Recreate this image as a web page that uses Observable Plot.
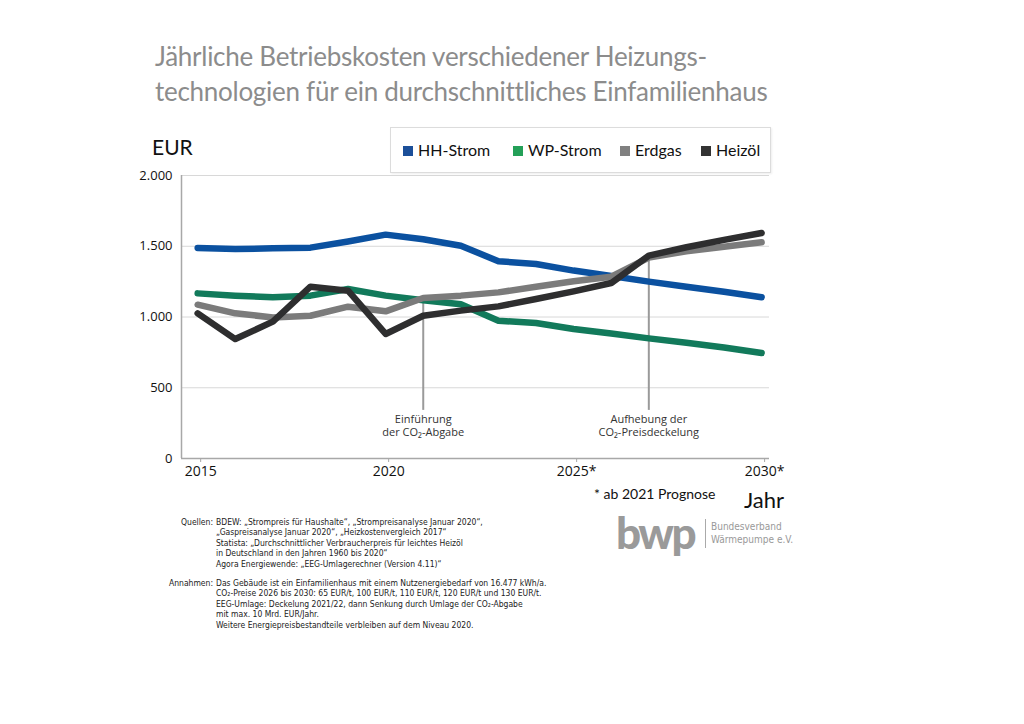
<!DOCTYPE html>
<html><head><meta charset="utf-8">
<script src="https://cdn.jsdelivr.net/npm/d3@7"></script>
<script src="https://cdn.jsdelivr.net/npm/@observablehq/plot@0.6"></script>
<style>
  html,body{margin:0;padding:0;background:#fff;}
  #page{position:relative;width:1024px;height:724px;overflow:hidden;font-family:Lato,"Open Sans",sans-serif;}
  .abs{position:absolute;white-space:nowrap;}
  #title{left:155px;top:39px;font-size:26px;letter-spacing:-0.27px;line-height:35px;color:#8c8c8c;}
  #eur{left:152px;top:134px;font-size:21px;color:#111;}
  #jahr{left:744px;top:486px;font-size:22px;color:#111;}
  #prog{left:594px;top:485px;font-size:14px;color:#111;}
  #legend{left:390px;top:127px;width:379px;height:44px;border:1px solid #dcdcdc;box-shadow:1px 1px 2px #eee;background:#fff;}
  .li{position:absolute;top:12px;font-size:16px;color:#111;}
  .sw{display:inline-block;width:10px;height:10px;margin-right:5px;vertical-align:0px;}
  #chart{left:0;top:160px;}
  .note{font-family:"DejaVu Sans Condensed","DejaVu Sans",sans-serif;font-size:8.5px;line-height:10.4px;color:#222;}
  .lab{width:120px;text-align:right;}
  #logo{left:616px;top:506px;font-family:Lato,sans-serif;font-weight:900;font-size:44px;color:#9a9a9a;letter-spacing:-2.5px;}
  #logodiv{left:705px;top:519px;width:1px;height:29px;background:#aaa;}
  #logotxt{left:711px;top:520px;font-family:"DejaVu Sans Condensed",sans-serif;font-size:10px;line-height:13px;color:#999;}
</style></head>
<body><div id="page">
  <div id="title" class="abs">Jährliche Betriebskosten verschiedener Heizungs-<br>technologien für ein durchschnittliches Einfamilienhaus</div>
  <div id="eur" class="abs">EUR</div>
  <div id="legend" class="abs"></div>
  <div id="chart" class="abs"></div>
  <div id="prog" class="abs">* ab 2021 Prognose</div>
  <div id="jahr" class="abs">Jahr</div>
  <div id="logo" class="abs">bwp</div>
  <div id="logodiv" class="abs"></div>
  <div id="logotxt" class="abs">Bundesverband<br>Wärmepumpe e.V.</div>
  <div class="abs note lab" style="left:93px;top:517px;">Quellen:</div>
  <div class="abs note" style="left:216px;top:517px;">BDEW: „Strompreis für Haushalte“, „Strompreisanalyse Januar 2020“,<br>„Gaspreisanalyse Januar 2020“, „Heizkostenvergleich 2017“<br>Statista: „Durchschnittlicher Verbraucherpreis für leichtes Heizöl<br>in Deutschland in den Jahren 1960 bis 2020“<br>Agora Energiewende: „EEG-Umlagerechner (Version 4.11)“</div>
  <div class="abs note lab" style="left:93px;top:578px;">Annahmen:</div>
  <div class="abs note" style="left:216px;top:578px;">Das Gebäude ist ein Einfamilienhaus mit einem Nutzenergiebedarf von 16.477 kWh/a.<br>CO₂-Preise 2026 bis 2030: 65 EUR/t, 100 EUR/t, 110 EUR/t, 120 EUR/t und 130 EUR/t.<br>EEG-Umlage: Deckelung 2021/22, dann Senkung durch Umlage der CO₂-Abgabe<br>mit max. 10 Mrd. EUR/Jahr.<br>Weitere Energiepreisbestandteile verbleiben auf dem Niveau 2020.</div>
</div>
<script>
// ---- data ----
const years = [2015,2016,2017,2018,2019,2020,2021,2022,2023,2024,2025,2026,2027,2028,2029,2030];
const hhStrom = [1488,1481,1485,1490,1533,1582,1549,1504,1394,1375,1328,1290,1250,1214,1179,1139];
const wpStrom = [1167,1151,1139,1151,1198,1151,1118,1090,974,957,915,884,849,818,785,745];
const erdgas  = [1087,1026,997,1009,1073,1040,1134,1151,1174,1214,1252,1285,1420,1465,1497,1528];
const heizoel = [1026,844,967,1214,1186,880,1009,1045,1075,1127,1181,1240,1434,1493,1545,1594];
const seriesNames = ["HH-Strom","WP-Strom","Erdgas","Heizöl"];
const seriesColors = ["#0b51a0","#127a5b","#7b7b7b","#2e2e2f"];
const legendColors = ["#1b4f99","#24a058","#808080","#333333"];
const yTicks = [0,500,1000,1500,2000];
const xTicks = [2015,2020,2025,2030];
const xTickLabels = ["2015","2020","2025*","2030*"];
const annYears = [2021,2027];
const annTop = [1134,1434];
const annBottom = [340,340];
const annLabels = ["Einführung\nder CO₂-Abgabe","Aufhebung der\nCO₂-Preisdeckelung"];
const xDomain = [2014.57,2030.21];
const yDomain = [0,2000];

const allSeries = [hhStrom,wpStrom,erdgas,heizoel];
const rows = [];
allSeries.forEach((vals,i)=>vals.forEach((v,j)=>rows.push({series:seriesNames[i],year:years[j],value:v})));
const ann = annYears.map((y,i)=>({year:y,top:annTop[i],bottom:annBottom[i],label:annLabels[i]}));

// legend
const lg = document.getElementById("legend");
const lx = [12,122,229,310];
seriesNames.forEach((n,i)=>{
  const d=document.createElement("div");d.className="li";d.style.left=lx[i]+"px";
  d.innerHTML=`<span class="sw" style="background:${legendColors[i]}"></span>${n}`;
  lg.appendChild(d);
});

const fmt = d => d3.format(",")(d).replace(/,/g,".");
const chart = Plot.plot({
  width:800,height:330,
  marginLeft:181,marginTop:15,marginRight:31,marginBottom:32,
  style:{fontFamily:"'Open Sans',sans-serif",fontSize:"13px",color:"#111",background:"transparent"},
  x:{domain:xDomain},
  y:{domain:yDomain},
  color:{domain:seriesNames,range:seriesColors},
  marks:[
    Plot.gridY(yTicks.filter(d=>d>0),{stroke:"#d8d8d8",strokeOpacity:1,strokeWidth:1}),
    Plot.ruleX([xDomain[0]],{stroke:"#a8a8a8",strokeWidth:1.5}),
    Plot.ruleY([yDomain[0]],{stroke:"#a8a8a8",strokeWidth:1.5}),
    Plot.axisY({ticks:yTicks,tickFormat:fmt,tickSize:0,tickPadding:9,label:null,fontSize:13}),
    Plot.axisX({ticks:xTicks,tickFormat:(d)=>xTickLabels[xTicks.indexOf(d)],tickSize:4,tickPadding:4,label:null,fontSize:14,stroke:"#a8a8a8",dx:3}),
    Plot.ruleX(ann,{x:"year",y1:"bottom",y2:"top",stroke:"#9a9a9a",strokeWidth:2}),
    Plot.text(ann,{x:"year",y:"bottom",text:"label",lineAnchor:"top",dy:3,fontSize:11,fill:"#333",lineHeight:1.2}),
    Plot.lineY(rows,{x:"year",y:"value",z:"series",stroke:"series",strokeWidth:6.5,strokeLinejoin:"round",strokeLinecap:"round"})
  ]
});
document.getElementById("chart").appendChild(chart);
</script>
</body></html>
